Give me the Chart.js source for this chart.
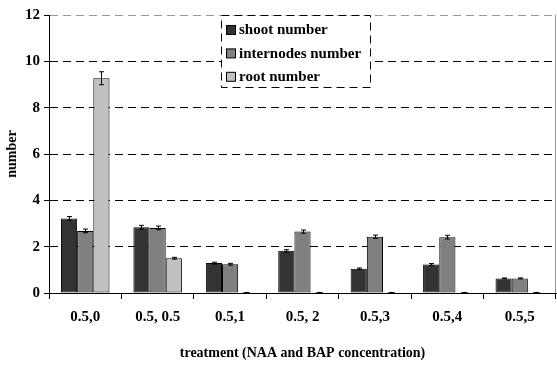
<!DOCTYPE html>
<html>
<head>
<meta charset="utf-8">
<script src="https://cdn.jsdelivr.net/npm/chart.js@4"></script>
<style>
  html, body { margin: 0; padding: 0; background: #fff; }
  #wrap { width: 557px; height: 366px; }
</style>
</head>
<body>
<div id="wrap"><canvas id="myChart"></canvas></div>
<script>
'use strict'

// data
const treatments = ['0.5,0', '0.5, 0.5', '0.5,1', '0.5, 2', '0.5,3', '0.5,4', '0.5,5']
const shootNumber = [3.22, 2.84, 1.29, 1.82, 1.05, 1.23, 0.63]
const shootErr = [0.08, 0.08, 0.04, 0.05, 0.03, 0.04, 0.02]
const internodesNumber = [2.68, 2.81, 1.24, 2.65, 2.43, 2.41, 0.63]
const internodesErr = [0.08, 0.08, 0.04, 0.07, 0.07, 0.08, 0.02]
const rootNumber = [9.27, 1.5, 0, 0, 0, 0, 0]
const rootErr = [0.28, 0.04, 0, 0, 0, 0, 0]
const yTicks = [0, 2, 4, 6, 8, 10, 12]

const FONT = '"Liberation Serif", "Times New Roman", serif'

// error bars, drawn from the y scale
const errorBars = {
  id: 'errorBars',
  afterDatasetsDraw(chart) {
    const { ctx, scales: { y } } = chart
    ctx.save()
    ctx.strokeStyle = '#000'
    ctx.lineWidth = 1
    chart.data.datasets.forEach((ds, i) => {
      const meta = chart.getDatasetMeta(i)
      meta.data.forEach((bar, j) => {
        const e = ds.errors[j]
        const x = Math.round(bar.x) + 0.5
        if (!e) {
          // tiny mark where a bar is zero
          const y0 = Math.round(y.getPixelForValue(0)) - 0.5
          ctx.beginPath(); ctx.moveTo(x - 3, y0); ctx.lineTo(x + 3, y0); ctx.stroke()
          return
        }
        const v = ds.data[j]
        const y1 = y.getPixelForValue(v + e)
        const y2 = y.getPixelForValue(v - e)
        ctx.beginPath()
        ctx.moveTo(x, y1); ctx.lineTo(x, y2)
        ctx.moveTo(x - 2.5, y1); ctx.lineTo(x + 2.5, y1)
        ctx.moveTo(x - 2.5, y2); ctx.lineTo(x + 2.5, y2)
        ctx.stroke()
      })
    })
    ctx.restore()
  }
}

// dashed legend box inside the plot + right border
const boxLegend = {
  id: 'boxLegend',
  afterDraw(chart) {
    const { ctx, chartArea } = chart
    ctx.save()
    ctx.strokeStyle = '#999'
    ctx.lineWidth = 1
    ctx.beginPath()
    ctx.moveTo(chartArea.right - 0.5, chartArea.top)
    ctx.lineTo(chartArea.right - 0.5, chartArea.bottom)
    ctx.stroke()

    const bx = 221.5, by = 15.5, bw = 149, bh = 72
    ctx.fillStyle = '#fff'
    ctx.fillRect(bx, by, bw, bh)
    ctx.strokeStyle = '#000'
    ctx.setLineDash([8, 5])
    ctx.strokeRect(bx, by, bw, bh)
    ctx.setLineDash([])

    ctx.font = 'bold 15px ' + FONT
    ctx.textBaseline = 'middle'
    chart.data.datasets.forEach((ds, i) => {
      const cy = 30 + i * 23.4
      ctx.fillStyle = ds.backgroundColor
      ctx.fillRect(226.5, cy - 4.5, 9, 9)
      ctx.strokeStyle = '#000'
      ctx.strokeRect(226.5, cy - 4.5, 9, 9)
      ctx.fillStyle = '#000'
      ctx.fillText(ds.label, 239, cy + 0.5)
    })
    ctx.restore()
  }
}

const common = {
  borderColor: '#000',
  borderWidth: 1,
  borderSkipped: false,
  barPercentage: 1,
  categoryPercentage: 0.67
}

new Chart(document.getElementById('myChart'), {
  type: 'bar',
  data: {
    labels: treatments,
    datasets: [
      { label: 'shoot number', data: shootNumber, errors: shootErr, backgroundColor: '#333333', ...common },
      { label: 'internodes number', data: internodesNumber, errors: internodesErr, backgroundColor: '#808080', ...common },
      { label: 'root number', data: rootNumber, errors: rootErr, backgroundColor: '#c0c0c0', ...common }
    ]
  },
  options: {
    responsive: true,
    maintainAspectRatio: false,
    animation: false,
    devicePixelRatio: 1,
    layout: { padding: { top: 15, right: 1, left: 4, bottom: 3 } },
    plugins: {
      legend: { display: false },
      tooltip: { enabled: false }
    },
    scales: {
      x: {
        grid: {
          offset: true,
          drawOnChartArea: false,
          tickLength: 6,
          color: '#000'
        },
        border: { color: '#000', width: 1 },
        ticks: {
          color: '#000',
          font: { family: FONT, size: 15, weight: 'bold' },
          padding: 9,
          maxRotation: 0
        },
        title: {
          display: true,
          text: 'treatment (NAA and BAP concentration)',
          color: '#000',
          font: { family: FONT, size: 14, weight: 'bold' },
          padding: { top: 0, bottom: 1 }
        },
        afterFit(s) { s.height = 70 }
      },
      y: {
        min: 0,
        max: 12,
        afterBuildTicks(s) { s.ticks = yTicks.map(v => ({ value: v })) },
        grid: {
          color: ctx => ctx.tick && ctx.tick.value === 12 ? '#999' : (ctx.tick && ctx.tick.value === 0 ? 'rgba(0,0,0,0)' : '#000'),
          tickColor: '#000',
          tickLength: 5,
          tickBorderDash: [],
          lineWidth: 1
        },
        border: { color: '#000', width: 1, dash: [8, 5] },
        ticks: {
          color: '#000',
          font: { family: FONT, size: 15, weight: 'bold' },
          padding: 4
        },
        title: {
          display: true,
          text: 'number',
          color: '#000',
          font: { family: FONT, size: 14, weight: 'bold' },
          padding: { top: 0, bottom: 2 }
        },
        afterFit(s) { s.width = 45 }
      }
    }
  },
  plugins: [errorBars, boxLegend]
})
</script>
</body>
</html>
